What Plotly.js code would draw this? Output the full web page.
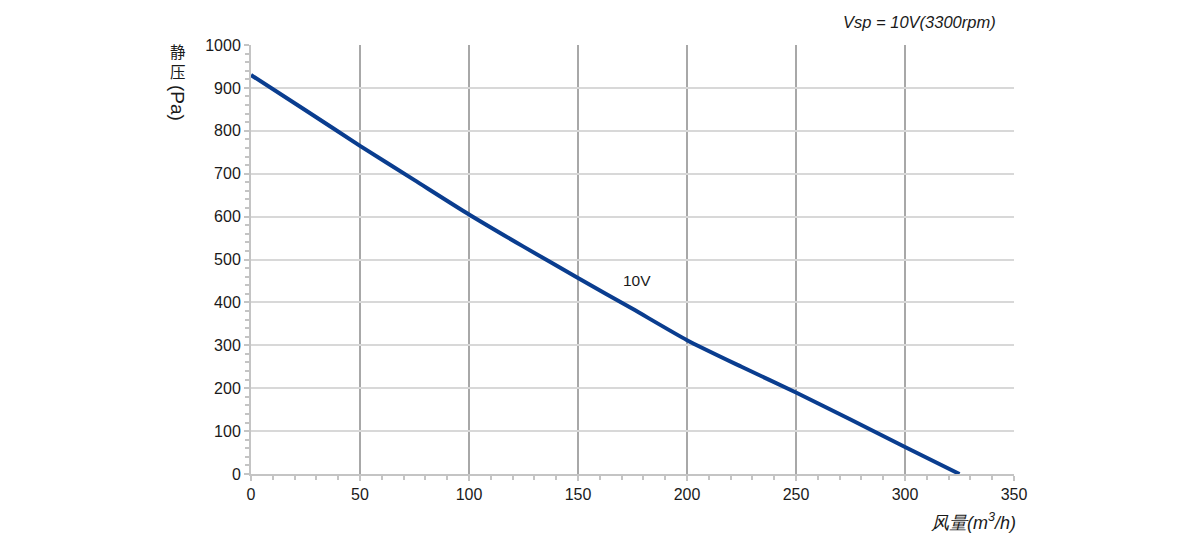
<!DOCTYPE html>
<html>
<head>
<meta charset="utf-8">
<script src="https://cdn.plot.ly/plotly-3.0.1.min.js"></script>
<style>html,body{margin:0;padding:0;background:#fff;}#chart{width:1200px;height:541px;}</style>
</head>
<body>
<div id="chart"></div>
<script>
const airflow = [0, 25, 50, 75, 100, 125, 150, 175, 200, 225, 250, 275, 300, 325];
const pressure = [930, 848, 765, 685, 605, 530, 457, 385, 312, 250, 190, 127, 63, 0];
const seriesName = "10V";
const chartTitle = "Vsp = 10V(3300rpm)";
const xTitle = "风量(m<sup>3</sup>/h)";
const yTitleChars = ["静", "压"];
const yTitleUnit = "(Pa)";

const font = "Liberation Sans, Arial, sans-serif";
const cjk = "Noto Sans CJK SC, sans-serif";
const txt = "#1a1a1a";
const trace = {
  x: airflow, y: pressure, type: "scatter", mode: "lines", name: seriesName,
  line: {color: "#0a3d8f", width: 4, shape: "spline", smoothing: 0.6}
};
const axisCommon = {
  zeroline: false, showline: true, linecolor: "#c4c4c4", linewidth: 2,
  ticks: "outside", ticklen: 5, tickcolor: "#c4c4c4", tickwidth: 2,
  tickfont: {family: font, size: 16, color: txt}, fixedrange: true, showgrid: true, gridwidth: 2
};
const layout = {
  width: 1200, height: 541,
  margin: {l: 251, r: 186, t: 45, b: 67},
  paper_bgcolor: "#fff", plot_bgcolor: "#fff",
  showlegend: false,
  font: {family: font, size: 16, color: txt},
  xaxis: Object.assign({}, axisCommon, {
    range: [0, 350], dtick: 50, tick0: 0, gridcolor: "#a8a8a8",
    minor: {dtick: 10, ticks: "outside", ticklen: 4, tickcolor: "#c4c4c4", tickwidth: 2, showgrid: false}
  }),
  yaxis: Object.assign({}, axisCommon, {
    range: [0, 1000], dtick: 100, tick0: 0, gridcolor: "#d8d8d8",
    minor: {dtick: 20, ticks: "outside", ticklen: 4, tickcolor: "#c4c4c4", tickwidth: 2, showgrid: false}
  }),
  annotations: [
    {text: "<i>" + chartTitle + "</i>", xref: "paper", yref: "paper", x: 0.979, y: 1, yshift: 23, xanchor: "right", yanchor: "middle",
     showarrow: false, font: {family: font, size: 16.5, color: txt}},
    {text: "<i>" + xTitle + "</i>", xref: "paper", yref: "paper", x: 1, xshift: 4, y: 0, yshift: -47, xanchor: "right", yanchor: "middle",
     showarrow: false, font: {family: font, size: 18, color: txt}},
    {text: yTitleChars.join("<br>"), xref: "paper", yref: "paper", x: 0, xshift: -73, y: 1, yshift: -16, xanchor: "center", yanchor: "middle",
     showarrow: false, font: {family: cjk, size: 15.5, color: txt}},
    {text: yTitleUnit, xref: "paper", yref: "paper", x: 0, xshift: -73, y: 1, yshift: -58, xanchor: "center", yanchor: "middle", textangle: 90,
     showarrow: false, font: {family: font, size: 19, color: txt}},
    {text: seriesName, x: 177, y: 452, xref: "x", yref: "y", showarrow: false, font: {family: font, size: 15.5, color: txt}}
  ]
};
Plotly.newPlot("chart", [trace], layout, {displayModeBar: false, staticPlot: true});
</script>
</body>
</html>
